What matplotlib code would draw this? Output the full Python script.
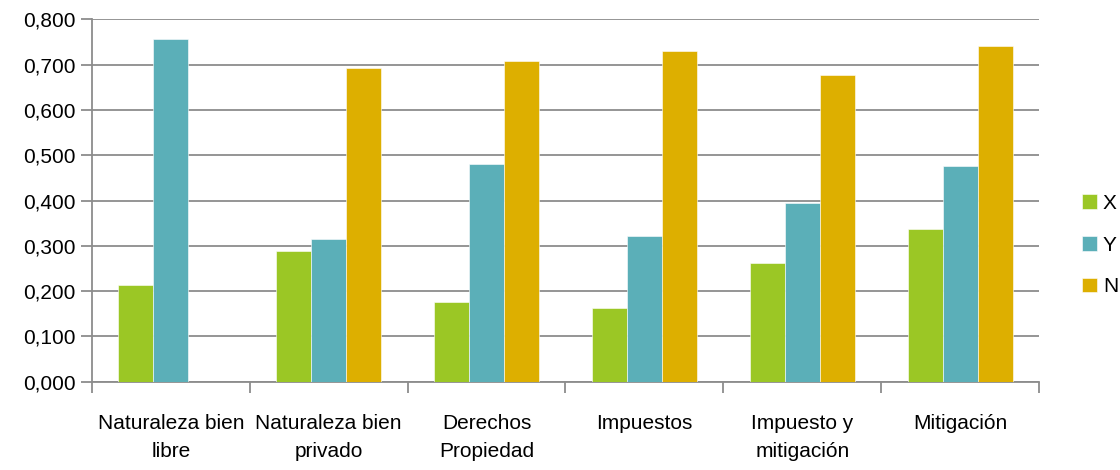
import numpy as np
import matplotlib.pyplot as plt
from matplotlib.ticker import FuncFormatter

# datos por categoría
categorias = ["Naturaleza bien\nlibre", "Naturaleza bien\nprivado", "Derechos\nPropiedad",
              "Impuestos", "Impuesto y\nmitigación", "Mitigación"]
serie_x = [0.214, 0.289, 0.175, 0.162, 0.261, 0.336]
serie_y = [0.757, 0.316, 0.481, 0.322, 0.395, 0.477]
serie_n = [0.0, 0.692, 0.707, 0.731, 0.676, 0.742]
nombres = ["X", "Y", "N"]
colores = ["#9BC725", "#5BAFB8", "#DDAF00"]

plt.rcParams['font.family'] = ['Liberation Sans', 'DejaVu Sans']

fig = plt.figure(figsize=(11.2, 4.7), dpi=100)
ax = fig.add_axes([0.0821, 0.1879, 0.8456, 0.771])

gris = "#8C8C8C"
n_cat = len(categorias)
idx = np.arange(n_cat)
ancho = 0.222

for k, (vals, nom, col) in enumerate(zip([serie_x, serie_y, serie_n], nombres, colores)):
    ax.bar(idx + (k - 1) * ancho, vals, width=ancho, color=col, label=nom,
           edgecolor="#FFFFFF", linewidth=0.4, zorder=3)

ax.set_xlim(-0.5, n_cat - 0.5)
ax.set_ylim(0, 0.8)
ax.set_yticks(np.arange(0, 0.81, 0.1))
ax.yaxis.set_major_formatter(FuncFormatter(lambda v, p: f"{v:.3f}".replace(".", ",")))
ax.grid(axis="y", color=gris, linewidth=1.3, zorder=0)

# etiquetas de categoría centradas, marcas en los límites
ax.set_xticks(idx)
ax.set_xticklabels(categorias, fontsize=15, linespacing=1.6)
ax.tick_params(axis="x", which="major", length=0, pad=23)
ax.set_xticks(np.arange(-0.5, n_cat, 1.0), minor=True)
ax.tick_params(axis="x", which="minor", length=8, width=1.3, color=gris)
ax.tick_params(axis="y", length=8, width=1.3, color=gris, labelsize=15, pad=4)

for lado in ["top", "right"]:
    ax.spines[lado].set_visible(False)
for lado in ["left", "bottom"]:
    ax.spines[lado].set_color(gris)
    ax.spines[lado].set_linewidth(1.3)

ax.legend(loc="center left", bbox_to_anchor=(1082 / 1120, 1 - 245 / 470),
          bbox_transform=fig.transFigure, frameon=False, fontsize=15, borderpad=0,
          borderaxespad=0, handlelength=0.7, handleheight=0.7, handletextpad=0.3,
          labelspacing=1.1)

fig.savefig("out.png", dpi=100)
